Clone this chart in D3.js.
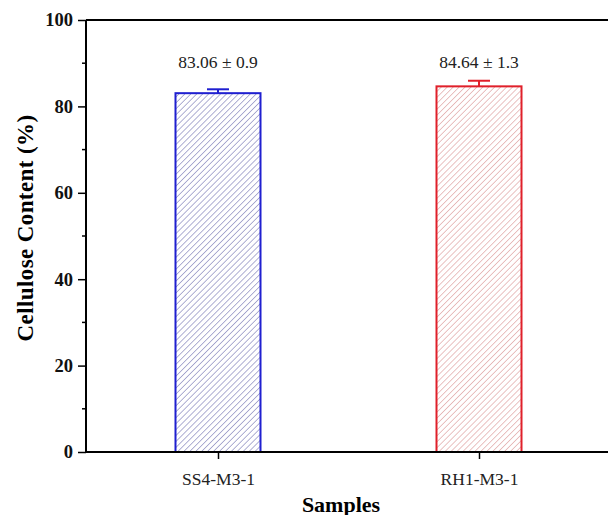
<!DOCTYPE html>
<html>
<head>
<meta charset="utf-8">
<script src="https://cdn.jsdelivr.net/npm/d3@7"></script>
<style>
body{margin:0;background:#fff;}
text{font-family:"Liberation Serif","Times New Roman",serif;}
</style>
</head>
<body>
<div id="chart"></div>
<script>
// data
var samples = ["SS4-M3-1", "RH1-M3-1"];
var cellulose = [83.06, 84.64];
var errors = [0.9, 1.3];
var barColors = ["#1f1fd0", "#e0202a"];
var hatchColors = ["#7070b0", "#d89090"];
var yTicks = [0, 20, 40, 60, 80, 100];

var margin = {top:20, right:0, bottom:63, left:86};
var width = 608 - margin.left - margin.right,
	height = 515 - margin.top - margin.bottom;

var svg = d3.select('#chart').append('svg')
	.attr('width', 608)
	.attr('height', 515);

var defs = svg.append('defs');
samples.forEach(function(s, i){
	var p = defs.append('pattern')
		.attr('id', 'hatch' + i)
		.attr('patternUnits', 'userSpaceOnUse')
		.attr('width', 4.2)
		.attr('height', 4.2)
		.attr('patternTransform', 'rotate(45)');
	p.append('line')
		.attr('x1', 0).attr('y1', 0)
		.attr('x2', 0).attr('y2', 4.2)
		.style('stroke', hatchColors[i])
		.style('stroke-width', 1.1);
});

var g = svg.append('g').attr('transform', 'translate(' + margin.left + ',' + margin.top + ')');

// centres: 218 and 479 in page coords
var x = d3.scaleLinear().domain([0, 1]).range([218 - margin.left, 479 - margin.left]);
var y = d3.scaleLinear().domain([0, 100]).range([height, 0]);

var barW = 85;

// bars
g.selectAll('rect.bar').data(cellulose).enter().append('rect')
	.attr('class', 'bar')
	.attr('x', function(d, i){ return x(i) - barW/2; })
	.attr('y', function(d){ return y(d); })
	.attr('width', barW)
	.attr('height', function(d){ return height - y(d); })
	.style('fill', function(d, i){ return 'url(#hatch' + i + ')'; })
	.style('stroke', function(d, i){ return barColors[i]; })
	.style('stroke-width', 2);

// error bars
g.selectAll('line.err').data(cellulose).enter().append('line')
	.attr('x1', function(d, i){ return x(i); })
	.attr('x2', function(d, i){ return x(i); })
	.attr('y1', function(d){ return y(d); })
	.attr('y2', function(d, i){ return y(d + errors[i]); })
	.style('stroke', function(d, i){ return barColors[i]; })
	.style('stroke-width', 2);
g.selectAll('line.cap').data(cellulose).enter().append('line')
	.attr('x1', function(d, i){ return x(i) - 11; })
	.attr('x2', function(d, i){ return x(i) + 11; })
	.attr('y1', function(d, i){ return y(d + errors[i]); })
	.attr('y2', function(d, i){ return y(d + errors[i]); })
	.style('stroke', function(d, i){ return barColors[i]; })
	.style('stroke-width', 2);

// value labels
g.selectAll('text.val').data(cellulose).enter().append('text')
	.attr('x', function(d, i){ return x(i); })
	.attr('y', 68 - margin.top)
	.attr('text-anchor', 'middle')
	.style('font-size', '17.5px')
	.style('fill', '#222')
	.text(function(d, i){ return d.toFixed(2) + ' \u00b1 ' + errors[i]; });

// y axis
var yAxis = g.append('g')
	.call(d3.axisLeft(y).tickValues(yTicks).tickSize(8).tickPadding(5).tickFormat(d3.format('d')));
yAxis.select('.domain').remove();
yAxis.selectAll('.tick line').style('stroke', '#000').style('stroke-width', 1.5);
yAxis.selectAll('.tick text')
	.style('font-size', '18.5px')
	.style('font-weight', 'bold')
	.style('font-family', '"Liberation Serif",serif')
	.style('fill', '#111');
// minor ticks
g.selectAll('line.minor').data(d3.range(10, 100, 20)).enter().append('line')
	.attr('x1', -4).attr('x2', 0)
	.attr('y1', function(d){ return y(d); })
	.attr('y2', function(d){ return y(d); })
	.style('stroke', '#000').style('stroke-width', 1.5);

// x axis
var xAxis = g.append('g')
	.attr('transform', 'translate(0,' + height + ')')
	.call(d3.axisBottom(x).tickValues([0, 1]).tickSize(7).tickPadding(14)
		.tickFormat(function(d){ return samples[d]; }));
xAxis.select('.domain').remove();
xAxis.selectAll('.tick line').style('stroke', '#000').style('stroke-width', 1.5);
xAxis.selectAll('.tick text')
	.style('font-size', '17.5px')
	.style('font-family', '"Liberation Serif",serif')
	.style('fill', '#222');

// frame lines
g.append('line').attr('x1', 0).attr('x2', width).attr('y1', 0).attr('y2', 0)
	.style('stroke', '#000').style('stroke-width', 2);
g.append('line').attr('x1', 0).attr('x2', width).attr('y1', height).attr('y2', height)
	.style('stroke', '#000').style('stroke-width', 2);
g.append('line').attr('x1', 0).attr('x2', 0).attr('y1', 0).attr('y2', height)
	.style('stroke', '#000').style('stroke-width', 2);

// axis titles
svg.append('text')
	.attr('x', 341).attr('y', 511.5)
	.attr('text-anchor', 'middle')
	.style('font-size', '22px')
	.style('font-weight', 'bold')
	.text('Samples');
svg.append('text')
	.attr('transform', 'translate(33,228) rotate(-90)')
	.attr('text-anchor', 'middle')
	.style('font-size', '23px')
	.style('font-weight', 'bold')
	.style('letter-spacing', '0.4px')
	.text('Cellulose Content (%)');
</script>
</body>
</html>
